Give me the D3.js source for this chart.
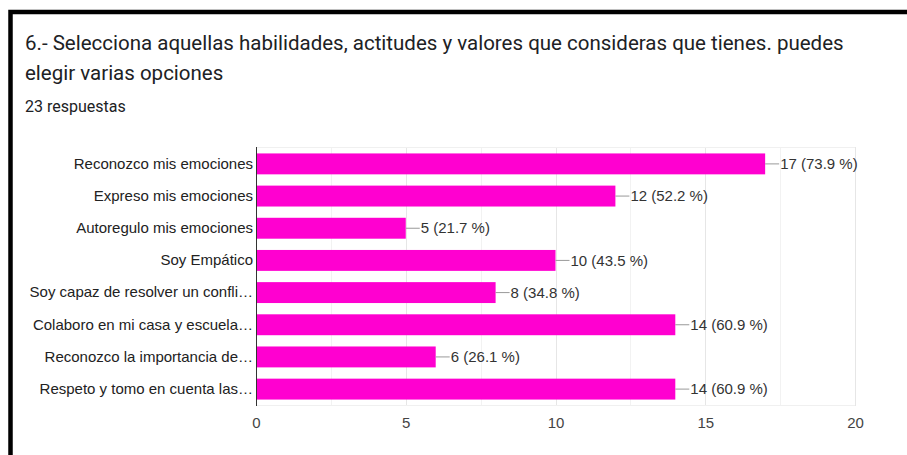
<!DOCTYPE html>
<html>
<head>
<meta charset="utf-8">
<script src="https://cdn.jsdelivr.net/npm/d3@7"></script>
<style>
  body { margin: 0; background: #fff; }
  svg { display: block; }
</style>
</head>
<body>
<div id="chart"></div>
<script>
// Data
var categories = [
  "Reconozco mis emociones",
  "Expreso mis emociones",
  "Autoregulo mis emociones",
  "Soy Empático",
  "Soy capaz de resolver un confli…",
  "Colaboro en mi casa y escuela…",
  "Reconozco la importancia de…",
  "Respeto y tomo en cuenta las…"
];
var counts = [17, 12, 5, 10, 8, 14, 6, 14];
var percents = ["73.9", "52.2", "21.7", "43.5", "34.8", "60.9", "26.1", "60.9"];
var xTicks = [0, 5, 10, 15, 20];

var svgWidth = 907;
var svgHeight = 455;

// plot area
var margin = { top: 147, left: 256, right: 52, bottom: 49 };
var width = svgWidth - margin.left - margin.right;
var height = svgHeight - margin.top - margin.bottom;

var svg = d3.select("#chart")
  .append("svg")
  .attr("width", svgWidth)
  .attr("height", svgHeight);

// black frame around the card (left and top only visible)
svg.append("path")
  .attr("d", "M10.5,455 L10.5,12 L907,12")
  .attr("fill", "none")
  .attr("stroke", "#000")
  .attr("stroke-width", 4.5);

// title + count
var title = svg.append("text")
  .style("font-family", "Roboto, 'Open Sans', sans-serif")
  .style("font-size", "20.5px")
  .style("fill", "#202124");
title.append("tspan").attr("x", 25).attr("y", 50)
  .text("6.- Selecciona aquellas habilidades, actitudes y valores que consideras que tienes. puedes");
title.append("tspan").attr("x", 25).attr("y", 80)
  .text("elegir varias opciones");

svg.append("text")
  .attr("x", 25)
  .attr("y", 112)
  .style("font-family", "Roboto, sans-serif")
  .style("font-size", "16px")
  .style("fill", "#202124")
  .text("23 respuestas");

var chartGroup = svg.append("g")
  .attr("transform", `translate(${margin.left}, ${margin.top})`);

var xScale = d3.scaleLinear()
  .domain([0, 20])
  .range([0, width]);

var yScale = d3.scaleBand()
  .domain(categories)
  .range([0, height])
  .paddingInner(0.35)
  .paddingOuter(0.2);

// minor + major gridlines
chartGroup.append("g")
  .selectAll("line")
  .data(d3.range(0, 20.01, 2.5))
  .enter()
  .append("line")
  .attr("x1", d => Math.round(xScale(d)) + 0.5)
  .attr("x2", d => Math.round(xScale(d)) + 0.5)
  .attr("y1", 0)
  .attr("y2", height)
  .attr("stroke", d => d % 5 === 0 ? "#e6e6e6" : "#f2f2f2");

// top and bottom border of the plot
chartGroup.append("line")
  .attr("x1", 0).attr("x2", width).attr("y1", 0.5).attr("y2", 0.5)
  .attr("stroke", "#f0f0f0");
chartGroup.append("line")
  .attr("x1", 0).attr("x2", width).attr("y1", height - 0.5).attr("y2", height - 0.5)
  .attr("stroke", "#f0f0f0");

// bars
var rows = categories.map((c, i) => ({ cat: c, n: counts[i], pct: percents[i] }));

chartGroup.selectAll("rect.bar")
  .data(rows)
  .enter()
  .append("rect")
  .attr("class", "bar")
  .attr("x", xScale(0))
  .attr("y", d => yScale(d.cat))
  .attr("width", d => xScale(d.n))
  .attr("height", yScale.bandwidth())
  .attr("fill", "#ff00d0");

// leader lines + value labels
chartGroup.selectAll("line.lead")
  .data(rows)
  .enter()
  .append("line")
  .attr("class", "lead")
  .attr("x1", d => xScale(d.n))
  .attr("x2", d => xScale(d.n) + 14)
  .attr("y1", d => yScale(d.cat) + yScale.bandwidth() / 2)
  .attr("y2", d => yScale(d.cat) + yScale.bandwidth() / 2)
  .attr("stroke", "#999");

chartGroup.selectAll("text.val")
  .data(rows)
  .enter()
  .append("text")
  .attr("class", "val")
  .attr("x", d => xScale(d.n) + 15)
  .attr("y", d => yScale(d.cat) + yScale.bandwidth() / 2)
  .attr("dy", "0.35em")
  .style("font-family", "Arial, 'Liberation Sans', sans-serif")
  .style("font-size", "15px")
  .style("fill", "#333")
  .text(d => `${d.n} (${d.pct} %)`);

// left axis
var leftAxis = d3.axisLeft(yScale).tickSize(0).tickPadding(3);
var yAxis = chartGroup.append("g").call(leftAxis);
yAxis.select(".domain").attr("stroke", "#333").attr("d", `M0.5,0V${height}`);
yAxis.selectAll("text")
  .style("font-family", "Arial, 'Liberation Sans', sans-serif")
  .style("font-size", "15px")
  .style("fill", "#222");

// bottom axis
var bottomAxis = d3.axisBottom(xScale).tickValues(xTicks).tickSize(0).tickPadding(11);
var xAxis = chartGroup.append("g")
  .attr("transform", `translate(0, ${height})`)
  .call(bottomAxis);
xAxis.select(".domain").remove();
xAxis.selectAll("text")
  .style("font-family", "Arial, 'Liberation Sans', sans-serif")
  .style("font-size", "15px")
  .style("fill", "#444");
</script>
</body>
</html>
